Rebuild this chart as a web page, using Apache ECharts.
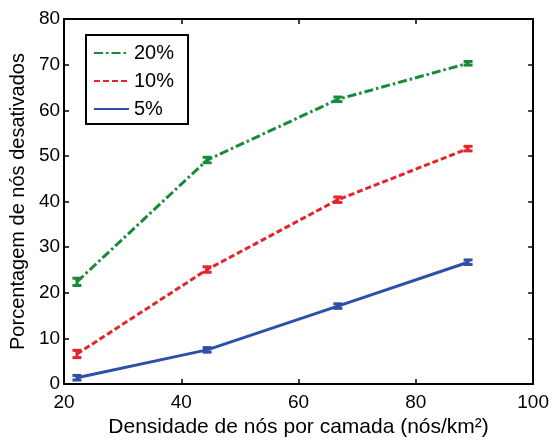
<!DOCTYPE html>
<html>
<head>
<meta charset="utf-8">
<script src="https://cdn.jsdelivr.net/npm/echarts@6/dist/echarts.min.js"></script>
<style>
html,body{margin:0;padding:0;background:#fff;}
#chart{width:552px;height:443px;}
</style>
</head>
<body>
<div id="chart"></div>
<script>
// Data
const densidade = [22.2, 44.4, 66.7, 88.9];
const seriesNames = ['20%', '10%', '5%'];
const pct20 = [22.4, 49.1, 62.4, 70.3];
const pct10 = [6.6, 25.1, 40.4, 51.6];
const pct5 = [1.4, 7.5, 17.1, 26.7];
const err20 = [0.8, 0.6, 0.5, 0.4];
const err10 = [0.8, 0.6, 0.6, 0.5];
const err5 = [0.5, 0.5, 0.5, 0.5];
const xTicks = [20, 40, 60, 80, 100];
const yTicks = [0, 10, 20, 30, 40, 50, 60, 70, 80];

const colors = ['#178a3b', '#e3262d', '#2d4fa6'];
const dashTypes = [[9, 3, 2.5, 3], [6, 3], 'solid'];
const values = [pct20, pct10, pct5];
const errs = [err20, err10, err5];

const FONT = 'Liberation Sans, Arial, sans-serif';
const chart = echarts.init(document.getElementById('chart'), null, {renderer: 'canvas'});

function errRender(color) {
  return function (params, api) {
    const x = api.value(0), y = api.value(1), e = api.value(2);
    const lo = api.coord([x, y - e]);
    const hi = api.coord([x, y + e]);
    const cx = lo[0];
    const hw = 4.5;
    const st = {stroke: color, lineWidth: 3};
    return {
      type: 'group',
      children: [
        {type: 'line', shape: {x1: cx, y1: lo[1], x2: cx, y2: hi[1]}, style: st},
        {type: 'line', shape: {x1: cx - hw, y1: lo[1], x2: cx + hw, y2: lo[1]}, style: st},
        {type: 'line', shape: {x1: cx - hw, y1: hi[1], x2: cx + hw, y2: hi[1]}, style: st}
      ]
    };
  };
}

const series = [];
for (let i = 0; i < 3; i++) {
  series.push({
    name: seriesNames[i],
    type: 'line',
    symbol: 'none',
    data: densidade.map((x, j) => [x, values[i][j]]),
    lineStyle: {color: colors[i], width: 3, type: dashTypes[i]},
    itemStyle: {color: colors[i]},
    z: 3
  });
}
for (let i = 0; i < 3; i++) {
  series.push({
    name: 'err' + i,
    type: 'custom',
    renderItem: errRender(colors[i]),
    data: densidade.map((x, j) => [x, values[i][j], errs[i][j]]),
    z: 4
  });
}

const axisCommon = {
  axisLine: {show: true, onZero: false, lineStyle: {color: '#000', width: 2}},
  axisTick: {show: true, inside: true, length: 5, lineStyle: {color: '#000', width: 1.5}},
  splitLine: {show: false}
};

chart.setOption({
  animation: false,
  backgroundColor: '#fff',
  grid: {left: 64, right: 13, top: 19, bottom: 58},
  legend: {
    data: seriesNames.map(n => ({name: n, itemStyle: {opacity: 0}})),
    orient: 'vertical',
    left: 86,
    top: 35,
    itemWidth: 35,
    itemHeight: 14,
    itemGap: 8,
    padding: [8, 14, 5, 7],
    borderColor: '#000',
    borderWidth: 2,
    backgroundColor: '#fff',
    textStyle: {fontFamily: FONT, fontSize: 20, color: '#000'}
  },
  xAxis: [
    Object.assign({
      type: 'value', min: 20, max: 100, interval: 20, position: 'bottom',
      name: 'Densidade de nós por camada (nós/km²)',
      nameLocation: 'middle', nameGap: 30,
      nameTextStyle: {fontFamily: FONT, fontSize: 21, color: '#000'},
      axisLabel: {fontFamily: FONT, fontSize: 19, color: '#000', margin: 9,
        formatter: v => xTicks.includes(v) ? String(v) : ''}
    }, axisCommon),
    Object.assign({
      type: 'value', min: 20, max: 100, interval: 20, position: 'top',
      axisLabel: {show: false}
    }, axisCommon)
  ],
  yAxis: [
    Object.assign({
      type: 'value', min: 0, max: 80, interval: 10, position: 'left',
      name: 'Porcentagem de nós desativados',
      nameLocation: 'middle', nameGap: 34,
      nameTextStyle: {fontFamily: FONT, fontSize: 20, color: '#000'},
      axisLabel: {fontFamily: FONT, fontSize: 19, color: '#000', margin: 4,
        formatter: v => yTicks.includes(v) ? String(v) : ''}
    }, axisCommon),
    Object.assign({
      type: 'value', min: 0, max: 80, interval: 10, position: 'right',
      axisLabel: {show: false}
    }, axisCommon)
  ],
  series: series
});
</script>
</body>
</html>
